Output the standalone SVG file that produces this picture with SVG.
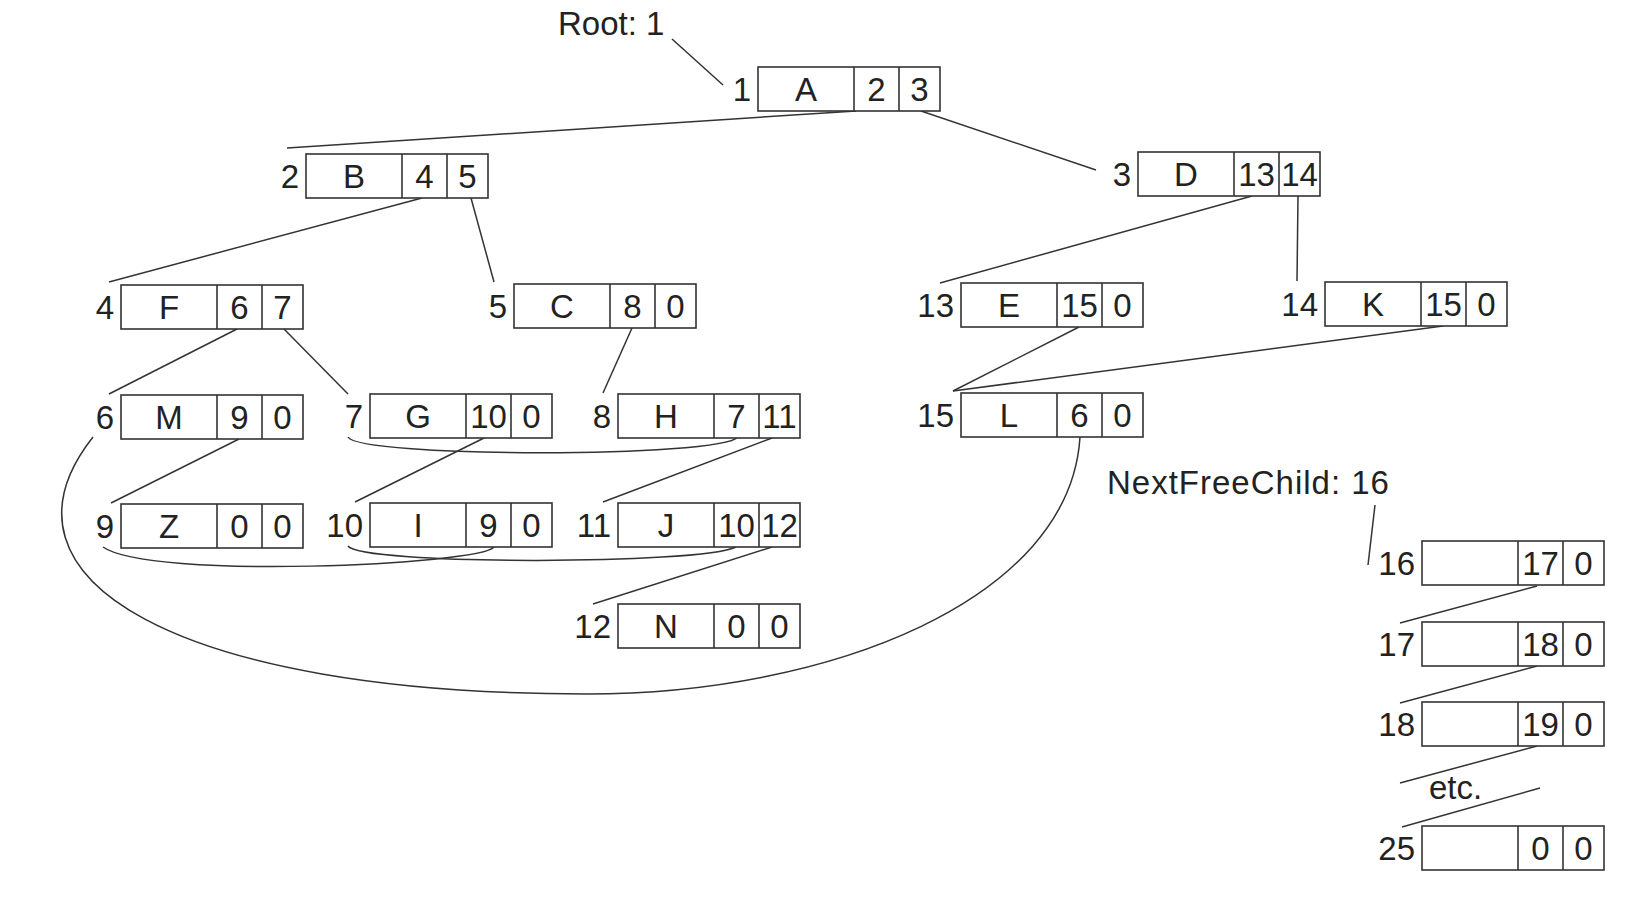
<svg xmlns="http://www.w3.org/2000/svg" width="1639" height="897" viewBox="0 0 1639 897">
<style>
rect.cell{fill:#fff;stroke:#333;stroke-width:1.6}
line.div{stroke:#333;stroke-width:1.6}
text{font-family:"Liberation Sans",Arial,Helvetica,sans-serif;font-size:33px;fill:#222}
text.c{text-anchor:middle}
text.l{text-anchor:end}
.conn line,.conn path{stroke:#333;stroke-width:1.5;fill:none}
</style>
<rect width="1639" height="897" fill="#fff"/>
<g id="connectors" class="conn">
<line x1="672" y1="39" x2="723" y2="85"/>
<line x1="856" y1="111" x2="287" y2="148"/>
<line x1="921" y1="111" x2="1096" y2="170"/>
<line x1="422" y1="198" x2="109" y2="282"/>
<line x1="471" y1="198" x2="494" y2="282"/>
<line x1="237" y1="329" x2="109" y2="394"/>
<line x1="284" y1="329" x2="348" y2="394"/>
<line x1="632" y1="328" x2="603" y2="393"/>
<line x1="1252" y1="196" x2="940" y2="283"/>
<line x1="1298" y1="196" x2="1297" y2="281"/>
<line x1="1079" y1="327" x2="953" y2="391"/>
<line x1="1443" y1="326" x2="953" y2="391"/>
<line x1="239" y1="439" x2="111" y2="503"/>
<line x1="484" y1="438" x2="355" y2="502"/>
<line x1="772" y1="438" x2="603" y2="502"/>
<path d="M348,437 C360,458 720,458 738,437"/>
<line x1="772" y1="547" x2="593" y2="604"/>
<path d="M494,547 C480,565 150,580 103,547"/>
<path d="M348,546 C360,565 700,565 736,547"/>
<path d="M93,437 C-20,580 180,694 586,694 C830,694 1070,600 1080,437"/>
<line x1="1375" y1="505" x2="1368" y2="565"/>
<line x1="1537" y1="586" x2="1400" y2="623"/>
<line x1="1537" y1="666" x2="1400" y2="703"/>
<line x1="1537" y1="746" x2="1400" y2="783"/>
<line x1="1540" y1="788" x2="1402" y2="827"/>
</g>
<g id="texts">
<text x="558" y="35">Root: 1</text>
<text x="1107" y="494" letter-spacing="1">NextFreeChild: 16</text>
<text x="1429" y="799">etc.</text>
</g>
<g id="nA"><rect class="cell" x="758" y="67" width="182" height="44"/><line class="div" x1="854" y1="67" x2="854" y2="111"/><line class="div" x1="899" y1="67" x2="899" y2="111"/><text class="c" x="806" y="101">A</text><text class="c" x="876.5" y="101">2</text><text class="c" x="919.5" y="101">3</text><text class="l" x="751" y="101">1</text></g>
<g id="nB"><rect class="cell" x="306" y="154" width="182" height="44"/><line class="div" x1="402" y1="154" x2="402" y2="198"/><line class="div" x1="447" y1="154" x2="447" y2="198"/><text class="c" x="354" y="188">B</text><text class="c" x="424.5" y="188">4</text><text class="c" x="467.5" y="188">5</text><text class="l" x="299" y="188">2</text></g>
<g id="nD"><rect class="cell" x="1138" y="152" width="182" height="44"/><line class="div" x1="1234" y1="152" x2="1234" y2="196"/><line class="div" x1="1279" y1="152" x2="1279" y2="196"/><text class="c" x="1186" y="186">D</text><text class="c" x="1256.5" y="186">13</text><text class="c" x="1299.5" y="186">14</text><text class="l" x="1131" y="186">3</text></g>
<g id="nF"><rect class="cell" x="121" y="285" width="182" height="44"/><line class="div" x1="217" y1="285" x2="217" y2="329"/><line class="div" x1="262" y1="285" x2="262" y2="329"/><text class="c" x="169" y="319">F</text><text class="c" x="239.5" y="319">6</text><text class="c" x="282.5" y="319">7</text><text class="l" x="114" y="319">4</text></g>
<g id="nC"><rect class="cell" x="514" y="284" width="182" height="44"/><line class="div" x1="610" y1="284" x2="610" y2="328"/><line class="div" x1="655" y1="284" x2="655" y2="328"/><text class="c" x="562" y="318">C</text><text class="c" x="632.5" y="318">8</text><text class="c" x="675.5" y="318">0</text><text class="l" x="507" y="318">5</text></g>
<g id="nE"><rect class="cell" x="961" y="283" width="182" height="44"/><line class="div" x1="1057" y1="283" x2="1057" y2="327"/><line class="div" x1="1102" y1="283" x2="1102" y2="327"/><text class="c" x="1009" y="317">E</text><text class="c" x="1079.5" y="317">15</text><text class="c" x="1122.5" y="317">0</text><text class="l" x="954" y="317">13</text></g>
<g id="nK"><rect class="cell" x="1325" y="282" width="182" height="44"/><line class="div" x1="1421" y1="282" x2="1421" y2="326"/><line class="div" x1="1466" y1="282" x2="1466" y2="326"/><text class="c" x="1373" y="316">K</text><text class="c" x="1443.5" y="316">15</text><text class="c" x="1486.5" y="316">0</text><text class="l" x="1318" y="316">14</text></g>
<g id="nM"><rect class="cell" x="121" y="395" width="182" height="44"/><line class="div" x1="217" y1="395" x2="217" y2="439"/><line class="div" x1="262" y1="395" x2="262" y2="439"/><text class="c" x="169" y="429">M</text><text class="c" x="239.5" y="429">9</text><text class="c" x="282.5" y="429">0</text><text class="l" x="114" y="429">6</text></g>
<g id="nG"><rect class="cell" x="370" y="394" width="182" height="44"/><line class="div" x1="466" y1="394" x2="466" y2="438"/><line class="div" x1="511" y1="394" x2="511" y2="438"/><text class="c" x="418" y="428">G</text><text class="c" x="488.5" y="428">10</text><text class="c" x="531.5" y="428">0</text><text class="l" x="363" y="428">7</text></g>
<g id="nH"><rect class="cell" x="618" y="394" width="182" height="44"/><line class="div" x1="714" y1="394" x2="714" y2="438"/><line class="div" x1="759" y1="394" x2="759" y2="438"/><text class="c" x="666" y="428">H</text><text class="c" x="736.5" y="428">7</text><text class="c" x="779.5" y="428">11</text><text class="l" x="611" y="428">8</text></g>
<g id="nL"><rect class="cell" x="961" y="393" width="182" height="44"/><line class="div" x1="1057" y1="393" x2="1057" y2="437"/><line class="div" x1="1102" y1="393" x2="1102" y2="437"/><text class="c" x="1009" y="427">L</text><text class="c" x="1079.5" y="427">6</text><text class="c" x="1122.5" y="427">0</text><text class="l" x="954" y="427">15</text></g>
<g id="nZ"><rect class="cell" x="121" y="504" width="182" height="44"/><line class="div" x1="217" y1="504" x2="217" y2="548"/><line class="div" x1="262" y1="504" x2="262" y2="548"/><text class="c" x="169" y="538">Z</text><text class="c" x="239.5" y="538">0</text><text class="c" x="282.5" y="538">0</text><text class="l" x="114" y="538">9</text></g>
<g id="nI"><rect class="cell" x="370" y="503" width="182" height="44"/><line class="div" x1="466" y1="503" x2="466" y2="547"/><line class="div" x1="511" y1="503" x2="511" y2="547"/><text class="c" x="418" y="537">I</text><text class="c" x="488.5" y="537">9</text><text class="c" x="531.5" y="537">0</text><text class="l" x="363" y="537">10</text></g>
<g id="nJ"><rect class="cell" x="618" y="503" width="182" height="44"/><line class="div" x1="714" y1="503" x2="714" y2="547"/><line class="div" x1="759" y1="503" x2="759" y2="547"/><text class="c" x="666" y="537">J</text><text class="c" x="736.5" y="537">10</text><text class="c" x="779.5" y="537">12</text><text class="l" x="611" y="537">11</text></g>
<g id="nN"><rect class="cell" x="618" y="604" width="182" height="44"/><line class="div" x1="714" y1="604" x2="714" y2="648"/><line class="div" x1="759" y1="604" x2="759" y2="648"/><text class="c" x="666" y="638">N</text><text class="c" x="736.5" y="638">0</text><text class="c" x="779.5" y="638">0</text><text class="l" x="611" y="638">12</text></g>
<g id="n16"><rect class="cell" x="1422" y="541" width="182" height="44"/><line class="div" x1="1518" y1="541" x2="1518" y2="585"/><line class="div" x1="1563" y1="541" x2="1563" y2="585"/><text class="c" x="1540.5" y="575">17</text><text class="c" x="1583.5" y="575">0</text><text class="l" x="1415" y="575">16</text></g>
<g id="n17"><rect class="cell" x="1422" y="622" width="182" height="44"/><line class="div" x1="1518" y1="622" x2="1518" y2="666"/><line class="div" x1="1563" y1="622" x2="1563" y2="666"/><text class="c" x="1540.5" y="656">18</text><text class="c" x="1583.5" y="656">0</text><text class="l" x="1415" y="656">17</text></g>
<g id="n18"><rect class="cell" x="1422" y="702" width="182" height="44"/><line class="div" x1="1518" y1="702" x2="1518" y2="746"/><line class="div" x1="1563" y1="702" x2="1563" y2="746"/><text class="c" x="1540.5" y="736">19</text><text class="c" x="1583.5" y="736">0</text><text class="l" x="1415" y="736">18</text></g>
<g id="n25"><rect class="cell" x="1422" y="826" width="182" height="44"/><line class="div" x1="1518" y1="826" x2="1518" y2="870"/><line class="div" x1="1563" y1="826" x2="1563" y2="870"/><text class="c" x="1540.5" y="860">0</text><text class="c" x="1583.5" y="860">0</text><text class="l" x="1415" y="860">25</text></g>
</svg>
